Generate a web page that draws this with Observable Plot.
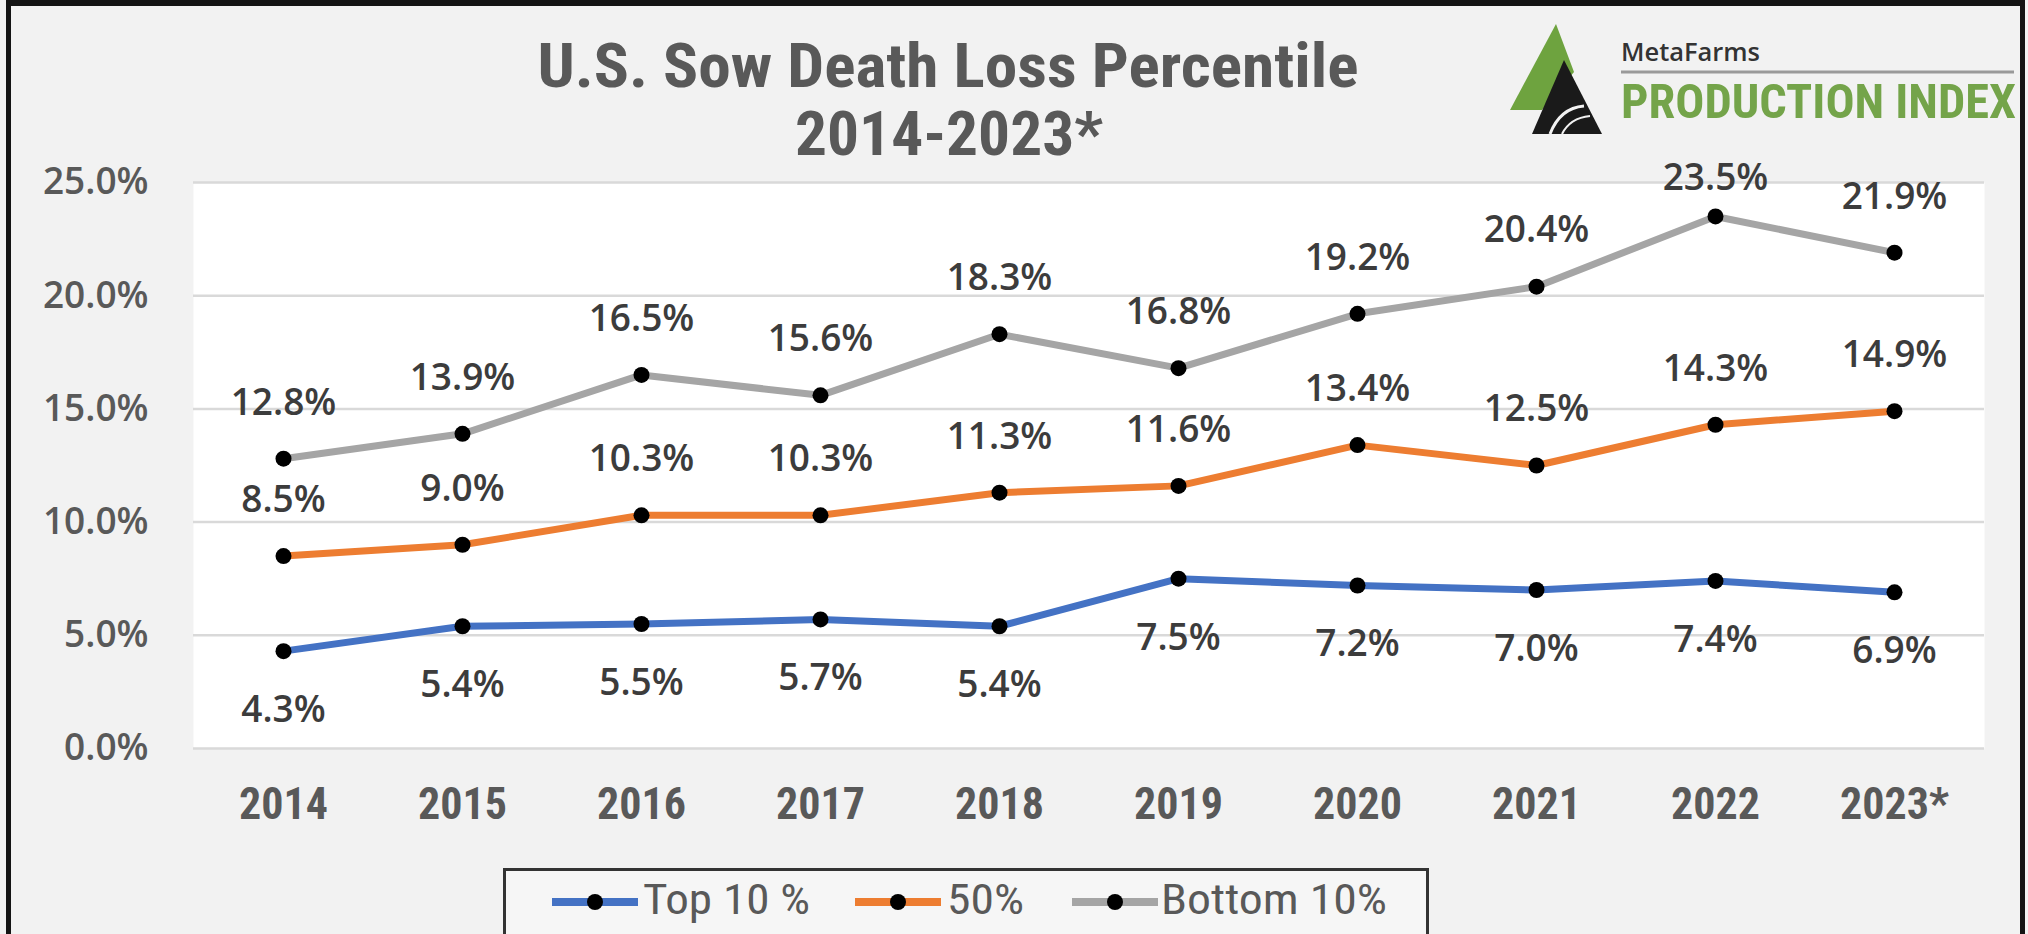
<!DOCTYPE html>
<html>
<head>
<meta charset="utf-8">
<script src="https://cdn.jsdelivr.net/npm/d3@7"></script>
<script src="https://cdn.jsdelivr.net/npm/@observablehq/plot@0.6"></script>
<style>
  html, body { margin: 0; padding: 0; background: #f2f2f2; }
  #wrap { position: relative; width: 2028px; height: 934px; overflow: hidden; background: #f2f2f2; }
  #border { position: absolute; left: 6px; top: 0; width: 2009px; height: 960px;
            border-left: 5px solid #141414; border-right: 5px solid #141414; border-top: 6px solid #141414; }
  #titlebox { position: absolute; left: 0; top: 0; }
  #logo { position: absolute; left: 1500px; top: 0; }
  #chart { position: absolute; left: 0; top: 150px; }
  #legend { position: absolute; left: 500px; top: 864px; }
  .narrow { font-family: "Liberation Sans Narrow", "Arial Narrow", "Roboto Condensed", "Open Sans", sans-serif; }
</style>
</head>
<body>
<div id="wrap">
  <div id="border"></div>
  <svg id="titlebox" width="2028" height="170">
    <text class="narrow" x="948" y="87" text-anchor="middle" font-size="62" font-weight="700" fill="#595959"
          textLength="821" lengthAdjust="spacingAndGlyphs">U.S. Sow Death Loss Percentile</text>
    <text class="narrow" x="949" y="155" text-anchor="middle" font-size="62" font-weight="700" fill="#595959"
          textLength="308" lengthAdjust="spacingAndGlyphs">2014-2023*</text>
  </svg>
  <svg id="logo" width="528" height="140">
    <polygon points="56,24 74,72 42,110 10,110" fill="#6ea33f"/>
    <polygon points="64,60 32,134 102,134" fill="#1a1a1a"/>
    <path d="M50,134 Q60,108 84,106" fill="none" stroke="#f2f2f2" stroke-width="3"/>
    <path d="M62,134 Q70,118 90,116" fill="none" stroke="#f2f2f2" stroke-width="2"/>
    <text x="121" y="61" font-family="Open Sans, sans-serif" font-size="26" font-weight="600" fill="#333"
          textLength="139" lengthAdjust="spacingAndGlyphs">MetaFarms</text>
    <line x1="121" x2="514" y1="72" y2="72" stroke="#9a9a9a" stroke-width="3"/>
    <text class="narrow" x="121" y="118" font-size="48" font-weight="700" fill="#74a44a"
          textLength="395" lengthAdjust="spacingAndGlyphs">PRODUCTION INDEX</text>
  </svg>
  <div id="chart"></div>
  <svg id="legend" width="940" height="80"></svg>
</div>
<script>
// ---- data ----
const years = ["2014", "2015", "2016", "2017", "2018", "2019", "2020", "2021", "2022", "2023*"];
const top10 = [4.3, 5.4, 5.5, 5.7, 5.4, 7.5, 7.2, 7.0, 7.4, 6.9];
const median50 = [8.5, 9.0, 10.3, 10.3, 11.3, 11.6, 13.4, 12.5, 14.3, 14.9];
const bottom10 = [12.8, 13.9, 16.5, 15.6, 18.3, 16.8, 19.2, 20.4, 23.5, 21.9];
const seriesNames = ["Top 10 %", "50%", "Bottom 10%"];
const yTicks = [0, 5, 10, 15, 20, 25];

// ---- styling ----
const seriesColors = ["#4472c4", "#ed7d31", "#a5a5a5"];
const narrowFont = "'Liberation Sans Narrow', 'Arial Narrow', 'Roboto Condensed', 'Open Sans', sans-serif";
const labelFont = "'Open Sans', sans-serif";
const yMax = 25;

const rows = [];
[top10, median50, bottom10].forEach((arr, i) =>
  arr.forEach((v, j) => rows.push({ series: seriesNames[i], year: years[j], value: v }))
);
const fmt = d => d.value.toFixed(1) + "%";
const labelStyle = { x: "year", y: "value", text: fmt, fontSize: 37, fontWeight: 600, fontFamily: labelFont, fill: "#3c3c3c" };
// labels above the line; those that would leave the chart area are nudged down (as in the source chart)
const above = rows.filter(d => d.series !== "Top 10 %");
const nearTop = d => d.value > yMax - 2;

const chart = Plot.plot({
  width: 2028,
  height: 700,
  marginTop: 32,
  marginBottom: 102,
  marginLeft: 193,
  marginRight: 44,
  style: { background: "transparent", overflow: "visible" },
  x: { type: "point", domain: years, padding: 0.5, axis: null },
  y: { domain: [0, yMax], axis: null },
  color: { domain: seriesNames, range: seriesColors },
  marks: [
    Plot.frame({ fill: "white", stroke: null }),
    Plot.gridY(yTicks, { stroke: "#d9d9d9", strokeOpacity: 1, strokeWidth: 2.5 }),
    Plot.axisY(yTicks, {
      label: null, tickSize: 0, tickPadding: 45, tickFormat: d => d.toFixed(1) + "%",
      fontSize: 37, fontWeight: 600, fontFamily: labelFont, color: "#595959"
    }),
    Plot.axisX(years, {
      label: null, tickSize: 0, tickPadding: 39, fontSize: 44, fontWeight: 700,
      fontFamily: narrowFont, color: "#595959"
    }),
    Plot.line(rows, { x: "year", y: "value", z: "series", stroke: "series", strokeWidth: 7 }),
    Plot.dot(rows, { x: "year", y: "value", r: 8, fill: "black", stroke: null }),
    Plot.text(above.filter(d => !nearTop(d)), { ...labelStyle, dy: -56 }),
    Plot.text(above.filter(nearTop), { ...labelStyle, dy: -38 }),
    Plot.text(rows.filter(d => d.series === "Top 10 %"), { ...labelStyle, dy: 59 })
  ]
});
document.getElementById("chart").appendChild(chart);

// ---- legend ----
const leg = d3.select("#legend");
leg.append("rect").attr("x", 4.5).attr("y", 5.5).attr("width", 923).attr("height", 90)
  .attr("fill", "#f6f6f6").attr("stroke", "#333").attr("stroke-width", 3);
const legendItems = [
  { name: seriesNames[0], color: seriesColors[0], sx: 52, tx: 143, tw: 167 },
  { name: seriesNames[1], color: seriesColors[1], sx: 355, tx: 447, tw: 77 },
  { name: seriesNames[2], color: seriesColors[2], sx: 572, tx: 661, tw: 226 }
];
legendItems.forEach(it => {
  leg.append("line").attr("x1", it.sx).attr("x2", it.sx + 86).attr("y1", 38).attr("y2", 38)
    .attr("stroke", it.color).attr("stroke-width", 8);
  leg.append("circle").attr("cx", it.sx + 43).attr("cy", 38).attr("r", 8).attr("fill", "black");
  leg.append("text").attr("x", it.tx).attr("y", 50).attr("class", "narrow")
    .attr("font-size", 42).attr("fill", "#595959")
    .attr("textLength", it.tw).attr("lengthAdjust", "spacingAndGlyphs").text(it.name);
});
</script>
</body>
</html>
